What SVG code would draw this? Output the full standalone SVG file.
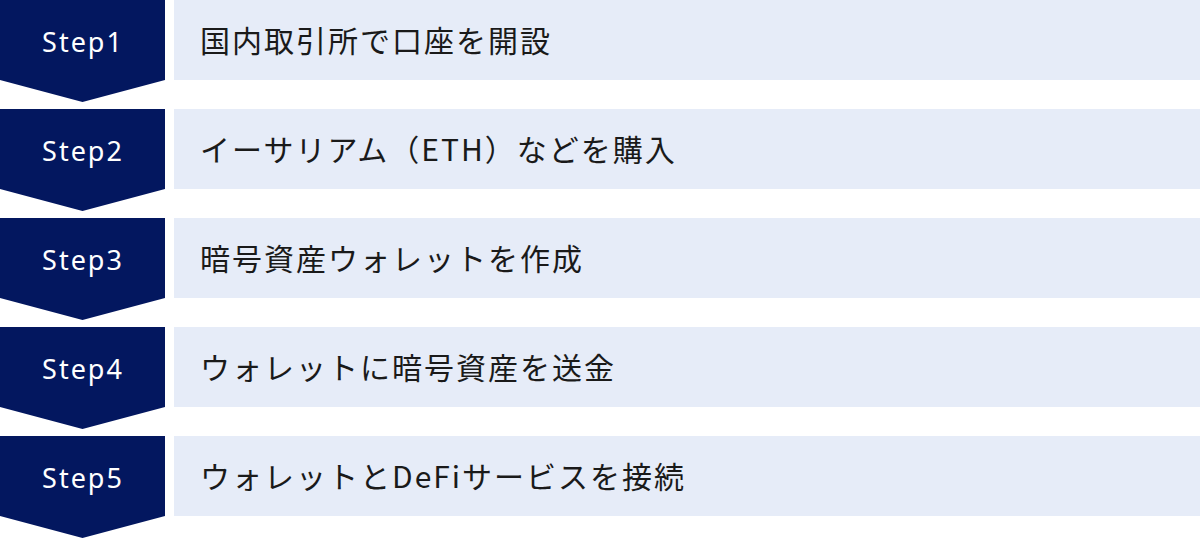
<svg xmlns="http://www.w3.org/2000/svg" width="1200" height="538" viewBox="0 0 1200 538">
<style>
.badge{fill:#03175f}
.bar{fill:#e6ecf8}
.st{font-family:"Noto Sans","DejaVu Sans",sans-serif;font-size:27px;fill:#ffffff;text-anchor:middle;letter-spacing:2px}
.lb{font-family:"Noto Sans CJK JP","Noto Sans",sans-serif;font-size:30px;fill:#1a1a1a;letter-spacing:2px}
</style>
<rect width="1200" height="538" fill="#ffffff"/>
<g id="step1">
<path class="badge" d="M0,0H165V80L82.5,102L0,80Z"/>
<rect class="bar" x="174" y="0" width="1026" height="80"/>
<text class="st" x="83" y="52">Step1</text>
<text class="lb" x="200" y="52">国内取引所で口座を開設</text>
</g>
<g id="step2">
<path class="badge" d="M0,109H165V189L82.5,211L0,189Z"/>
<rect class="bar" x="174" y="109" width="1026" height="80"/>
<text class="st" x="83" y="161">Step2</text>
<text class="lb" x="200" y="161">イーサリアム（ETH）などを購入</text>
</g>
<g id="step3">
<path class="badge" d="M0,218H165V298L82.5,320L0,298Z"/>
<rect class="bar" x="174" y="218" width="1026" height="80"/>
<text class="st" x="83" y="270">Step3</text>
<text class="lb" x="200" y="270">暗号資産ウォレットを作成</text>
</g>
<g id="step4">
<path class="badge" d="M0,327H165V407L82.5,429L0,407Z"/>
<rect class="bar" x="174" y="327" width="1026" height="80"/>
<text class="st" x="83" y="379">Step4</text>
<text class="lb" x="200" y="379">ウォレットに暗号資産を送金</text>
</g>
<g id="step5">
<path class="badge" d="M0,436H165V516L82.5,538L0,516Z"/>
<rect class="bar" x="174" y="436" width="1026" height="80"/>
<text class="st" x="83" y="488">Step5</text>
<text class="lb" x="200" y="488">ウォレットとDeFiサービスを接続</text>
</g>
<g id="connectors"/>
</svg>
